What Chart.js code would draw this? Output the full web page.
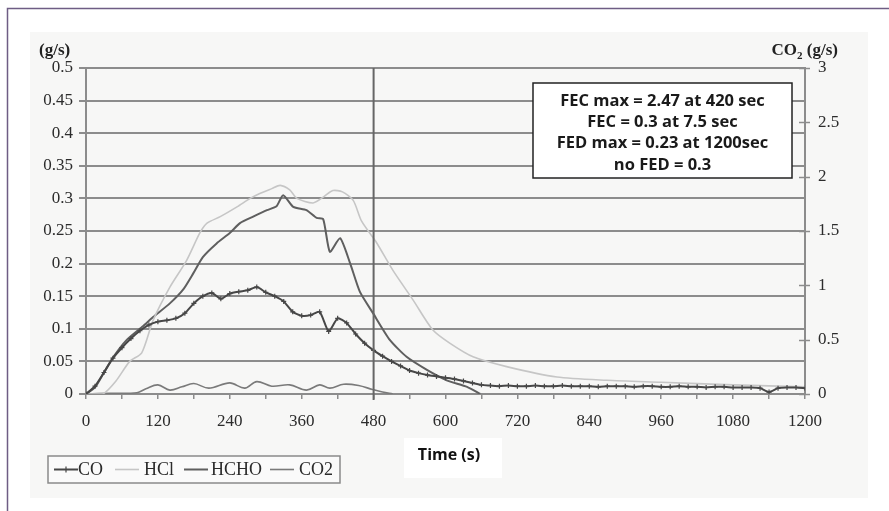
<!DOCTYPE html>
<html>
<head>
<meta charset="utf-8">
<script src="https://cdn.jsdelivr.net/npm/chart.js@4.4.0/dist/chart.umd.min.js"></script>
<style>
  html, body { margin: 0; padding: 0; background: #fff; }
  canvas { display: block; }
</style>
</head>
<body>
<canvas id="chartCanvas" width="889" height="511"></canvas>
<script>
// CO, sampled every 15 s (has markers)
const coTimes = [0, 15, 30, 45, 60, 75, 90, 105, 120, 135, 150, 165, 180, 195, 210, 225, 240, 255, 270, 285,
  300, 315, 330, 345, 360, 375, 390, 405, 420, 435, 450, 465, 480, 495, 510, 525, 540, 555, 570, 585,
  600, 615, 630, 645, 660, 675, 690, 705, 720, 735, 750, 765, 780, 795, 810, 825, 840, 855, 870, 885,
  900, 915, 930, 945, 960, 975, 990, 1005, 1020, 1035, 1050, 1065, 1080, 1095, 1110, 1125, 1140, 1155, 1170, 1185, 1200];
const coValues = [0, 0.012, 0.033, 0.055, 0.071, 0.085, 0.097, 0.106, 0.111, 0.113, 0.116, 0.124, 0.139, 0.150, 0.155, 0.146, 0.154, 0.157, 0.159, 0.164,
  0.156, 0.150, 0.142, 0.126, 0.120, 0.121, 0.126, 0.096, 0.116, 0.109, 0.092, 0.078, 0.067, 0.058, 0.050, 0.043, 0.036, 0.032, 0.029, 0.027,
  0.025, 0.023, 0.020, 0.017, 0.014, 0.013, 0.012, 0.013, 0.012, 0.012, 0.013, 0.012, 0.012, 0.013, 0.012, 0.012, 0.012, 0.011, 0.012, 0.012,
  0.012, 0.011, 0.012, 0.012, 0.011, 0.011, 0.012, 0.011, 0.011, 0.010, 0.011, 0.011, 0.010, 0.010, 0.010, 0.009, 0.003, 0.009, 0.010, 0.010, 0.009];

const hclTimes = [0, 28, 50, 73, 93, 112, 140, 168, 190, 202, 224, 252, 274, 291, 310, 324, 340, 352, 379, 396,
  412, 428, 446, 460, 485, 512, 546, 579, 607, 646, 702, 786, 869, 960, 1080, 1200];
const hclValues = [0, 0, 0.020, 0.050, 0.063, 0.113, 0.164, 0.205, 0.247, 0.262, 0.272, 0.287, 0.300, 0.308, 0.315, 0.320, 0.313, 0.300, 0.293, 0.302,
  0.312, 0.310, 0.297, 0.265, 0.232, 0.190, 0.144, 0.098, 0.078, 0.057, 0.042, 0.026, 0.021, 0.018, 0.014, 0.011];

const hchoTimes = [0, 15, 30, 45, 68, 95, 112, 140, 162, 179, 195, 218, 240, 257, 279, 302, 318, 329, 346, 368,
  385, 396, 407, 424, 441, 457, 479, 507, 535, 569, 602, 636, 658];
const hchoValues = [0, 0.010, 0.033, 0.056, 0.083, 0.104, 0.118, 0.139, 0.160, 0.185, 0.210, 0.231, 0.247, 0.262, 0.272, 0.282, 0.288, 0.305, 0.287, 0.282,
  0.270, 0.268, 0.218, 0.239, 0.200, 0.157, 0.124, 0.083, 0.057, 0.037, 0.021, 0.011, 0];

// CO2 is read on the right axis
const co2Times = [0, 40, 85, 100, 120, 140, 160, 180, 205, 240, 265, 285, 310, 340, 368, 390, 407, 430, 455, 478, 495, 512];
const co2Values = [0, 0.006, 0.012, 0.048, 0.084, 0.036, 0.066, 0.096, 0.054, 0.102, 0.054, 0.114, 0.072, 0.084, 0.036, 0.084, 0.054, 0.090, 0.078, 0.042, 0.018, 0];

const seriesNames = ['CO', 'HCl', 'HCHO', 'CO2'];
const markerTime = 480;
const noteLines = ['FEC max = 2.47 at 420 sec', 'FEC = 0.3 at 7.5 sec', 'FED max = 0.23 at 1200sec', 'no FED = 0.3'];
const leftTitle = '(g/s)';
const xTitle = 'Time (s)';

const SERIF = "'Liberation Serif', 'DejaVu Serif', serif";
const SANS = "'Open Sans', 'Liberation Sans', sans-serif";
const GRID = '#8c8c8c';
const TXT = '#2c2c2c';

function pts(ts, vs) {
  return ts.map((t, i) => ({ x: t, y: vs[i] }));
}

const datasets = [
  { label: seriesNames[0], data: pts(coTimes, coValues), yAxisID: 'y', borderColor: '#474747', borderWidth: 2,
    pointStyle: 'cross', pointRadius: 2.5, pointBorderColor: '#474747', pointBorderWidth: 1.2, tension: 0.2 },
  { label: seriesNames[1], data: pts(hclTimes, hclValues), yAxisID: 'y', borderColor: '#c6c6c6', borderWidth: 1.6,
    pointRadius: 0, tension: 0.25 },
  { label: seriesNames[2], data: pts(hchoTimes, hchoValues), yAxisID: 'y', borderColor: '#5f5f5f', borderWidth: 2,
    pointRadius: 0, tension: 0.2 },
  { label: seriesNames[3], data: pts(co2Times, co2Values), yAxisID: 'y2', borderColor: '#7a7a7a', borderWidth: 1.6,
    pointRadius: 0, tension: 0.35 }
];

const frame = {
  id: 'frame',
  beforeDraw(chart) {
    const ctx = chart.ctx;
    ctx.save();
    ctx.fillStyle = '#ffffff';
    ctx.fillRect(0, 0, chart.width, chart.height);
    ctx.fillStyle = '#f7f7f6';
    ctx.fillRect(30, 32, 838, 466);
    ctx.strokeStyle = '#6e5d84';
    ctx.lineWidth = 1.5;
    ctx.beginPath();
    ctx.moveTo(7.5, 511);
    ctx.lineTo(7.5, 8.5);
    ctx.lineTo(889, 8.5);
    ctx.stroke();
    ctx.restore();
  }
};

const overlay = {
  id: 'overlay',
  afterDatasetsDraw(chart) {
    const ctx = chart.ctx;
    const a = chart.chartArea;
    const x = chart.scales.x, y2 = chart.scales.y2;
    ctx.save();

    // vertical marker
    const vx = x.getPixelForValue(markerTime);
    ctx.strokeStyle = '#666';
    ctx.lineWidth = 2;
    ctx.beginPath();
    ctx.moveTo(vx, a.top);
    ctx.lineTo(vx, a.bottom + 6);
    ctx.stroke();

    // right axis ticks cross the axis
    ctx.strokeStyle = GRID;
    ctx.lineWidth = 1.5;
    y2.ticks.forEach(t => {
      const py = Math.round(y2.getPixelForValue(t.value)) + 0.5;
      ctx.beginPath();
      ctx.moveTo(a.right - 6, py);
      ctx.lineTo(a.right + 5, py);
      ctx.stroke();
    });

    // note box
    const bx = 533, by = 83, bw = 259, bh = 95;
    ctx.fillStyle = '#fff';
    ctx.fillRect(bx, by, bw, bh);
    ctx.strokeStyle = '#222';
    ctx.lineWidth = 1.5;
    ctx.strokeRect(bx, by, bw, bh);
    ctx.fillStyle = '#1a1a1a';
    ctx.font = 'bold 16.5px ' + SANS;
    ctx.textAlign = 'center';
    ctx.textBaseline = 'middle';
    noteLines.forEach((s, i) => ctx.fillText(s, bx + bw / 2, by + 18 + i * 21.3));
    ctx.restore();
  },
  afterDraw(chart) {
    const ctx = chart.ctx;
    ctx.save();
    ctx.fillStyle = '#222';
    ctx.textBaseline = 'middle';

    // axis unit labels
    ctx.font = 'bold 17px ' + SERIF;
    ctx.textAlign = 'left';
    ctx.fillText(leftTitle, 39, 51);

    const big = 'bold 17px ' + SERIF, small = 'bold 11px ' + SERIF;
    ctx.font = big;
    const w1 = ctx.measureText('CO').width, w3 = ctx.measureText(' (g/s)').width;
    ctx.font = small;
    const w2 = ctx.measureText('2').width;
    let sx = 838 - (w1 + w2 + w3);
    ctx.font = big;
    ctx.fillText('CO', sx, 51);
    ctx.font = small;
    ctx.fillText('2', sx + w1, 56);
    ctx.font = big;
    ctx.fillText(' (g/s)', sx + w1 + w2, 51);

    // x title on white patch
    ctx.fillStyle = '#fff';
    ctx.fillRect(404, 438, 98, 40);
    ctx.fillStyle = '#111';
    ctx.font = 'bold 16px ' + SANS;
    ctx.textAlign = 'center';
    ctx.fillText(xTitle, 449, 455);

    // legend
    ctx.fillStyle = '#fafafa';
    ctx.fillRect(48, 456, 292, 27);
    ctx.strokeStyle = '#8a8a8a';
    ctx.lineWidth = 1.5;
    ctx.strokeRect(48, 456, 292, 27);
    const items = [[54, 78], [115, 144], [184, 211], [270, 299]];
    ctx.font = '18px ' + SERIF;
    ctx.textAlign = 'left';
    chart.data.datasets.forEach((ds, i) => {
      const [lx, tx] = items[i];
      const ly = 469.5;
      ctx.strokeStyle = ds.borderColor;
      ctx.lineWidth = ds.borderWidth;
      ctx.beginPath();
      ctx.moveTo(lx, ly);
      ctx.lineTo(lx + 24, ly);
      ctx.stroke();
      if (ds.pointStyle === 'cross') {
        ctx.lineWidth = 1.2;
        ctx.beginPath();
        ctx.moveTo(lx + 12, ly - 3);
        ctx.lineTo(lx + 12, ly + 3);
        ctx.stroke();
      }
      ctx.fillStyle = TXT;
      ctx.fillText(ds.label, tx, 470);
    });
    ctx.restore();
  }
};

const ctx = document.getElementById('chartCanvas').getContext('2d');
new Chart(ctx, {
  type: 'line',
  data: { datasets: datasets },
  options: {
    responsive: false,
    animation: false,
    devicePixelRatio: 1,
    layout: { padding: { top: 68, bottom: 77, left: 0, right: 0 } },
    plugins: { legend: { display: false }, tooltip: { enabled: false } },
    scales: {
      x: {
        type: 'linear', min: 0, max: 1200,
        afterFit: s => { s.height = 40; },
        ticks: {
          stepSize: 60, autoSkip: false, maxRotation: 0, padding: 12,
          color: TXT, font: { family: SERIF, size: 17 },
          callback: v => (v % 120 === 0 ? String(v) : '')
        },
        grid: { drawOnChartArea: false, tickLength: 5, color: GRID, lineWidth: 1.5 },
        border: { color: GRID, width: 2 }
      },
      y: {
        position: 'left', min: 0, max: 0.5,
        afterFit: s => { s.width = 86; },
        ticks: {
          stepSize: 0.05, padding: 6, color: TXT, font: { family: SERIF, size: 17 },
          callback: v => String(+v.toFixed(2))
        },
        grid: { color: GRID, lineWidth: 2, tickLength: 7 },
        border: { color: GRID, width: 2 }
      },
      y2: {
        position: 'right', min: 0, max: 3,
        afterFit: s => { s.width = 84; },
        ticks: {
          stepSize: 0.5, padding: 13, color: TXT, font: { family: SERIF, size: 17 },
          callback: v => String(+v.toFixed(1))
        },
        grid: { drawOnChartArea: false, drawTicks: false },
        border: { color: GRID, width: 2 }
      }
    }
  },
  plugins: [frame, overlay]
});
</script>
</body>
</html>
